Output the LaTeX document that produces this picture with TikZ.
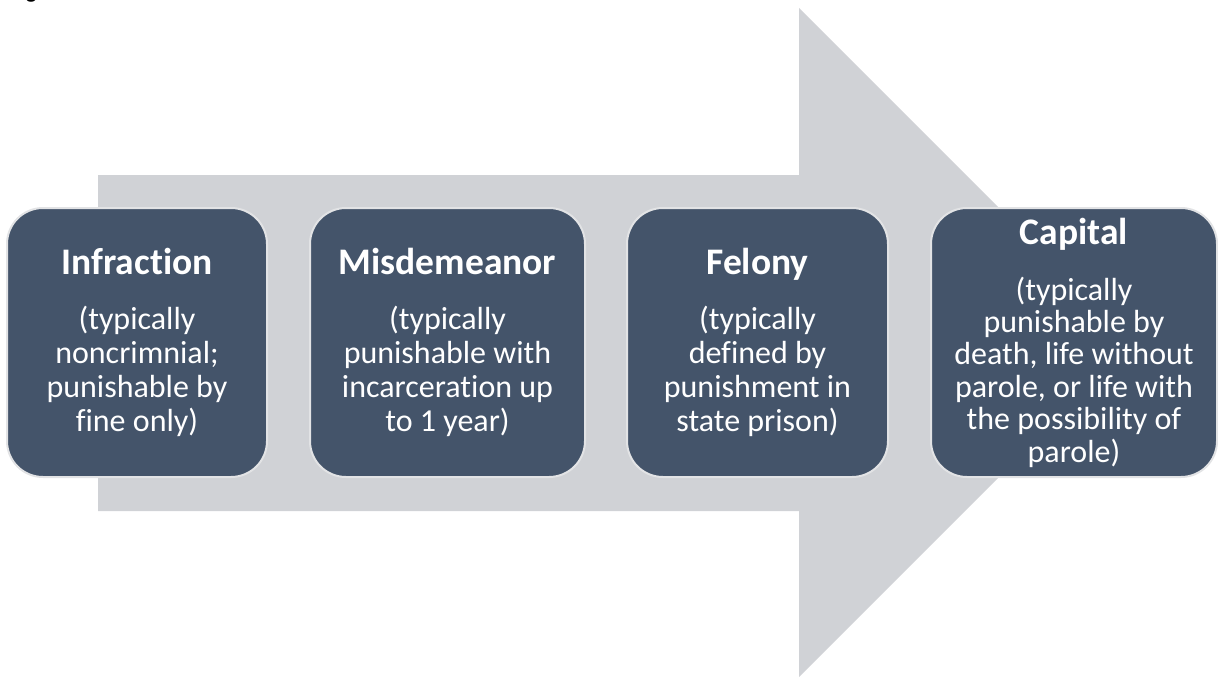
\documentclass[tikz,border=0pt]{standalone}
\usepackage{fontspec}
\setmainfont{Carlito}[Ligatures={NoCommon}]
\definecolor{arrowgrey}{HTML}{D0D2D6}
\definecolor{boxblue}{HTML}{44546A}
\definecolor{boxedge}{HTML}{E2E3E5}
\begin{document}
\begin{tikzpicture}[x=1pt,y=-1pt,
  stage/.style={draw=boxedge, line width=2pt, fill=boxblue, rounded corners=36pt,
    text=white, align=center, inner sep=0pt, outer sep=0pt,
    font=\fontsize{32}{34}\selectfont}]
\useasboundingbox (0,0) rectangle (1218,677);
\newcommand{\stagetitle}[1]{{\fontsize{37.5}{40}\selectfont\bfseries #1}}
% cut-off caption fragment
\node[anchor=base west, inner sep=0pt, font=\fontsize{22}{26}\selectfont\bfseries] (cap) at (26,-1) {g};
% big arrow
\fill[arrowgrey] (98,175) -- (799,175) -- (799,8) -- (1133.5,342.5) -- (799,677) -- (799,511) -- (98,511) -- cycle;
% stages
\node[stage, minimum width=260pt, minimum height=269pt] (b1) at (137,342.5)
  {\stagetitle{Infraction}\\[21pt](typically\\noncrimnial;\\punishable by\\fine only)};
\node[stage, minimum width=275pt, minimum height=269pt] (b2) at (447.5,342.5)
  {\stagetitle{Misdemeanor}\\[21pt](typically\\punishable with\\incarceration up\\to 1 year)};
\node[stage, minimum width=261pt, minimum height=269pt] (b3) at (757.5,342.5)
  {\stagetitle{Felony}\\[21pt](typically\\defined by\\punishment in\\state prison)};
\node[stage, minimum width=286pt, minimum height=269pt, font=\fontsize{32}{32.4}\selectfont] (b4) at (1074,342.5)
  {\stagetitle{Capital}\\[23.5pt](typically\\punishable by\\death, life without\\parole, or life with\\the possibility of\\parole)};
\end{tikzpicture}
\end{document}
